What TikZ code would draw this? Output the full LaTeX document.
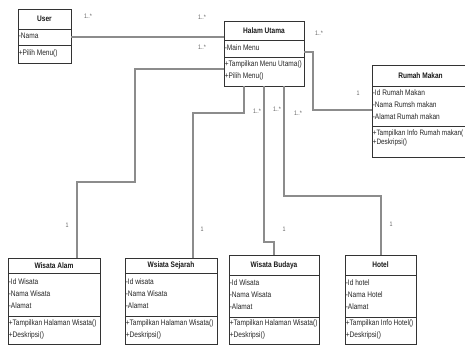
\documentclass[tikz,border=0pt]{standalone}
\usepackage{fontspec}
\newfontfamily\umlf[FakeStretch=0.82]{Liberation Sans}
\usetikzlibrary{calc}
% #1 name, #2 left, #3 top, #4 right, #5 header bottom, #6 separator, #7 bottom, #8 title, #9 attributes
\newcommand\umlclass[9]{%
  \node[box, minimum width={(#4-#2)*1pt}, minimum height={(#5-#3)*1pt}] (#1) at (#2,#3) {};
  \node[ttl] (#1t) at (#1.center) {#8};
  \node[box, minimum width={(#4-#2)*1pt}, minimum height={(#6-#5)*1pt}] (#1a) at (#2,#5) {};
  \node[txt] (#1at) at ([yshift=1pt]#1a.west) {#9};
  \node[box, minimum width={(#4-#2)*1pt}, minimum height={(#7-#6)*1pt}] (#1o) at (#2,#6) {};
}
\newcommand\umlops[2]{\node[txt] (#1ot) at ([yshift=1pt]#1o.west) {#2};}
\begin{document}
\begin{tikzpicture}[x=1pt,y=-1pt,
  box/.style={draw=black!80, line width=0.75pt, fill=white, inner sep=0pt, outer sep=0pt, anchor=north west},
  ttl/.style={font=\umlf\bfseries\fontsize{8}{9}\selectfont, text=black!90, inner sep=0pt},
  txt/.style={font=\umlf\fontsize{8}{12}\selectfont, align=left, anchor=west, inner xsep=0.6pt, inner ysep=0pt, text=black!85},
  conn/.style={draw=black!45, line width=1.1pt},
  mult/.style={font=\umlf\fontsize{6.5}{7}\selectfont, text=black!60, inner sep=0pt}]
\fill[white] (0,0) rectangle (465,345);
\useasboundingbox (0,0) rectangle (465,345);
\clip (0,0) rectangle (465,345);

\umlclass{user}{18}{9}{71}{29}{45}{63}{User}{-Nama}
\umlops{user}{+Pilih Menu()}

\umlclass{hal}{224}{21}{304}{40}{57}{86}{Halam Utama}{-Main Menu}
\umlops{hal}{+Tampilkan Menu Utama()\\+Pilih Menu()}

\umlclass{rm}{372}{65}{469}{86}{126}{157}{Rumah Makan}{-Id Rumah Makan\\-Nama Rumsh makan\\-Alamat Rumah makan}
\node[txt, anchor=north west, font=\umlf\fontsize{7.8}{12}\selectfont] (rmot) at ([yshift=-3.5pt]rmo.north west) {+Tampilkan Info Rumah makan(\\[-3pt]+Deskripsi()};

\umlclass{alam}{8}{258}{100}{273}{316}{344}{Wisata Alam}{-Id Wisata\\-Nama Wisata\\-Alamat}
\umlops{alam}{+Tampilkan Halaman Wisata()\\+Deskripsi()}

\umlclass{sej}{125}{258}{217}{273}{316}{344}{Wsiata Sejarah}{-Id wisata\\-Nama Wisata\\-Alamat}
\umlops{sej}{+Tampilkan Halaman Wisata()\\+Deskripsi()}

\umlclass{bud}{229}{255}{319}{275}{317}{344}{Wisata Budaya}{-Id Wisata\\-Nama Wisata\\-Alamat}
\umlops{bud}{+Tampilkan Halaman Wisata()\\+Deskripsi()}

\umlclass{hot}{345}{255}{416}{275}{317}{344}{Hotel}{-Id hotel\\-Nama Hotel\\-Alamat}
\umlops{hot}{+Tampilkan Info Hotel()\\+Deskripsi()}

% connectors
\draw[conn] (usera.east) -- (usera.east -| hal.west);
\draw[conn] ($(halo.north west)+(0,12)$) -| (135,182) -| ($(alam.north west)+(69,0)$);
\draw[conn] ($(halo.south west)+(20,0)$) |- (193,113) -- ($(sej.north west)+(68,0)$);
\draw[conn] ($(halo.south west)+(40,0)$) |- (274,242) -- ($(bud.north west)+(45,0)$);
\draw[conn] ($(halo.south west)+(60,0)$) |- (381,196) -- ($(hot.north west)+(36,0)$);
\draw[conn] ($(hala.north east)+(0,12)$) -| (313,110) -- ($(rma.north west)+(0,24)$);

% multiplicities
\node[mult] (m1) at (88,16) {1..*};
\node[mult] (m2) at (202,17) {1..*};
\node[mult] (m3) at (202,47) {1..*};
\node[mult] (m4) at (319,33) {1..*};
\node[mult] (m5) at (358,93) {1};
\node[mult] (m6) at (257,111) {1..*};
\node[mult] (m7) at (277,109) {1..*};
\node[mult] (m8) at (298,113) {1..*};
\node[mult] (m9) at (67,225) {1};
\node[mult] (m10) at (202,229) {1};
\node[mult] (m11) at (284,229) {1};
\node[mult] (m12) at (391,224) {1};
\end{tikzpicture}
\end{document}
